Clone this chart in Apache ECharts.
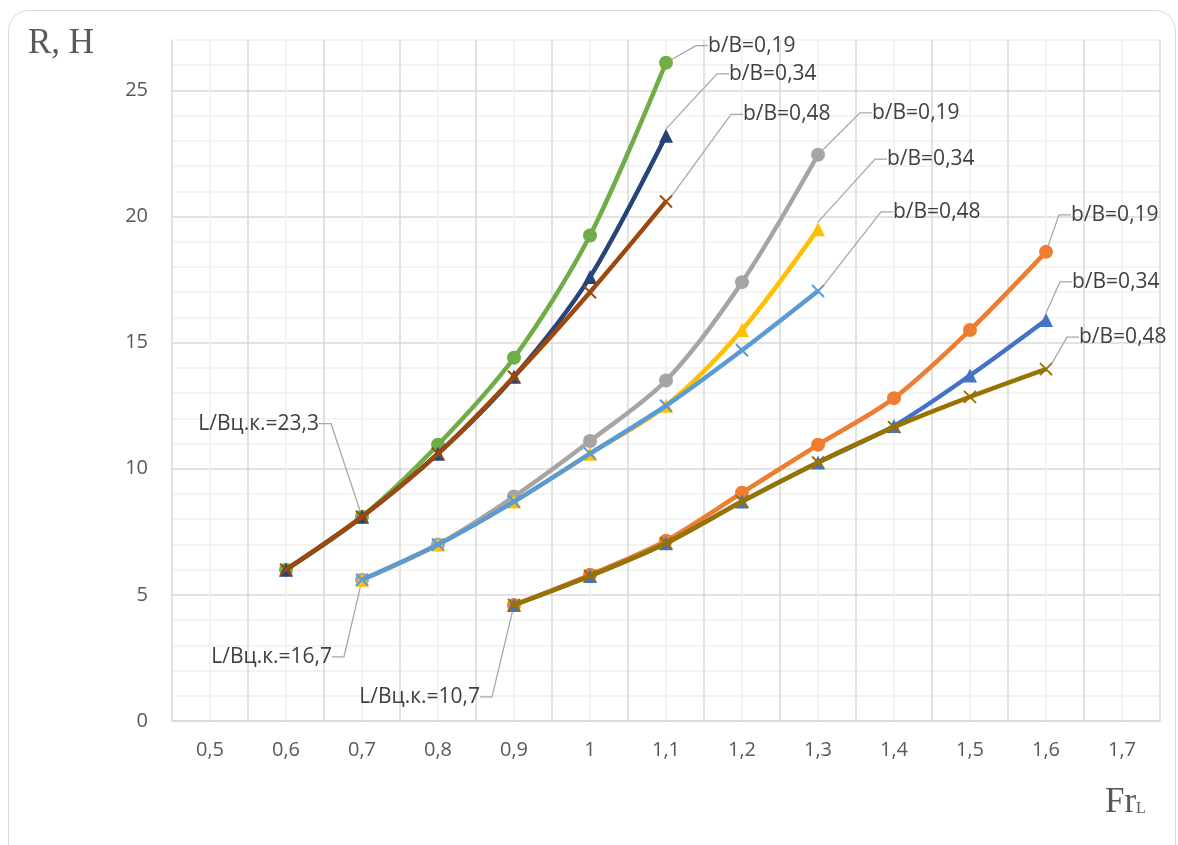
<!DOCTYPE html>
<html><head><meta charset="utf-8">
<script src="https://cdn.jsdelivr.net/npm/echarts@6/dist/echarts.min.js"></script>
<style>html,body{margin:0;padding:0;background:#fff}#c{width:1178px;height:845px}</style>
</head><body><div id="c"></div>
<script>
// ---- data ----
const frA = [0.6, 0.7, 0.8, 0.9, 1.0, 1.1];
const frB = [0.7, 0.8, 0.9, 1.0, 1.1, 1.2, 1.3];
const frC = [0.9, 1.0, 1.1, 1.2, 1.3, 1.4, 1.5, 1.6];
const rA19 = [6.0, 8.1, 10.95, 14.4, 19.25, 26.1];
const rA34 = [6.0, 8.1, 10.6, 13.65, 17.6, 23.2];
const rA48 = [6.0, 8.1, 10.6, 13.65, 17.0, 20.6];
const rB19 = [5.6, 7.0, 8.9, 11.1, 13.5, 17.4, 22.45];
const rB34 = [5.6, 7.0, 8.7, 10.6, 12.5, 15.5, 19.5];
const rB48 = [5.6, 7.0, 8.7, 10.6, 12.5, 14.7, 17.05];
const rC19 = [4.6, 5.8, 7.15, 9.05, 10.95, 12.8, 15.5, 18.6];
const rC34 = [4.6, 5.75, 7.05, 8.7, 10.25, 11.7, 13.7, 15.9];
const rC48 = [4.6, 5.75, 7.05, 8.7, 10.25, 11.65, 12.85, 13.95];
const ratioLabels = ['b/B=0,19', 'b/B=0,34', 'b/B=0,48'];
const groupLabels = ['L/Вц.к.=23,3', 'L/Вц.к.=16,7', 'L/Вц.к.=10,7'];
const groupLabelIndex = [1, 0, 0];
const xTickLabels = ['0,5','0,6','0,7','0,8','0,9','1','1,1','1,2','1,3','1,4','1,5','1,6','1,7'];

// ---- styles ----
const colors = ['#70AD47','#264478','#9E480E','#A5A5A5','#FFC000','#5B9BD5','#ED7D31','#4472C4','#997300'];
const xMark = 'path://M0,0L10,10M10,0L0,10';
const symbols = ['circle','triangle',xMark];
const symSizes = [14, 14, 12];
// label offsets [dx, dy] relative to point centre (text edge)
const endOffsets = [[42,-17],[63,-62],[77,-87],[54,-42],[69,-70],[75,-79],[25,-37],[26,-38],[33,-32]];
const groupOffsets = [[-43,-93],[-30,77],[-34,92]];

const groups = [[frA,[rA19,rA34,rA48]],[frB,[rB19,rB34,rB48]],[frC,[rC19,rC34,rC48]]];
const layoutMap = {};
const series = [];
groups.forEach((g, gi) => {
  const xs = g[0];
  g[1].forEach((ys, k) => {
    const si = series.length;
    layoutMap[si] = {};
    const data = xs.map((x, i) => ({ value: [x, ys[i]] }));
    const last = data.length - 1;
    data[last].label = { show: true, formatter: ratioLabels[k], padding: [4, 4, 0, 8] };
    layoutMap[si][last] = { off: endOffsets[si], align: 'left' };
    if (k === 0) {
      const gi2 = groupLabelIndex[gi];
      data[gi2].label = { show: true, formatter: groupLabels[gi], padding: [4, 8, 0, 4] };
      layoutMap[si][gi2] = { off: groupOffsets[gi], align: 'right' };
    }
    series.push({
      type: 'line',
      data: data,
      smooth: 0.3,
      symbol: symbols[k],
      symbolSize: symSizes[k],
      showAllSymbol: true,
      lineStyle: { color: colors[si], width: 4.5 },
      itemStyle: { color: colors[si], borderColor: colors[si], borderWidth: k === 2 ? 2 : 0 },
      label: { show: false, color: '#404040', fontFamily: 'Open Sans', fontSize: 21 },
      labelLine: { show: true, length2: 12, smooth: false, lineStyle: { color: '#a6a6a6', width: 1.25 } },
      labelLayout: function (p) {
        const m = layoutMap[p.seriesIndex] && layoutMap[p.seriesIndex][p.dataIndex];
        if (!m) return {};
        const cx = p.rect.x + p.rect.width / 2, cy = p.rect.y + p.rect.height / 2;
        const pad = m.align === 'left' ? -8 : 8;
        return { x: cx + m.off[0] + pad, y: cy + m.off[1], align: m.align, verticalAlign: 'middle' };
      },
      emphasis: { disabled: true },
      z: 2 + si
    });
  });
});

const chart = echarts.init(document.getElementById('c'), null, { renderer: 'canvas' });
chart.setOption({
  animation: false,
  backgroundColor: '#fff',
  grid: { left: 172, right: 18, top: 40, bottom: 124, containLabel: false },
  xAxis: {
    type: 'value', min: 0.45, max: 1.75, interval: 0.05,
    axisLine: { show: true, lineStyle: { color: '#d9d9d9', width: 1.5 } },
    axisTick: { show: false },
    axisLabel: {
      margin: 19, color: '#595959', fontFamily: 'Open Sans', fontSize: 20,
      formatter: function (v) {
        const n = Math.round(v * 100);
        if (n % 10 !== 0) return '';
        const idx = Math.round((v - 0.5) * 10);
        return xTickLabels[idx] || '';
      }
    },
    splitLine: { show: true, lineStyle: { color: ['#d9d9d9', '#f0f0f0'], width: 1.5 } }
  },
  yAxis: {
    type: 'value', min: 0, max: 27, interval: 1,
    axisLine: { show: false }, axisTick: { show: false },
    axisLabel: {
      margin: 24, color: '#595959', fontFamily: 'Open Sans', fontSize: 20,
      formatter: function (v) { return (Math.round(v) % 5 === 0) ? String(Math.round(v)) : ''; }
    },
    splitLine: { show: true, lineStyle: { color: ['#d9d9d9', '#f0f0f0', '#f0f0f0', '#f0f0f0', '#f0f0f0'], width: 1.5 } }
  },
  graphic: [
    { type: 'rect', z: -10, silent: true, shape: { x: 8.5, y: 10.5, width: 1167, height: 880, r: 20 },
      style: { fill: 'none', stroke: '#d9d9d9', lineWidth: 1 } },
    { type: 'text', left: 28, top: 26, silent: true,
      style: { text: 'R, Н', font: '35px "Liberation Serif"', fill: '#595959' } },
    { type: 'text', left: 1105, top: 785, silent: true,
      style: { text: 'Fr', font: '35px "Liberation Serif"', fill: '#595959' } },
    { type: 'text', left: 1136, top: 801, silent: true,
      style: { text: 'L', font: '16px "Liberation Serif"', fill: '#595959' } }
  ],
  series: series
});
</script></body></html>
